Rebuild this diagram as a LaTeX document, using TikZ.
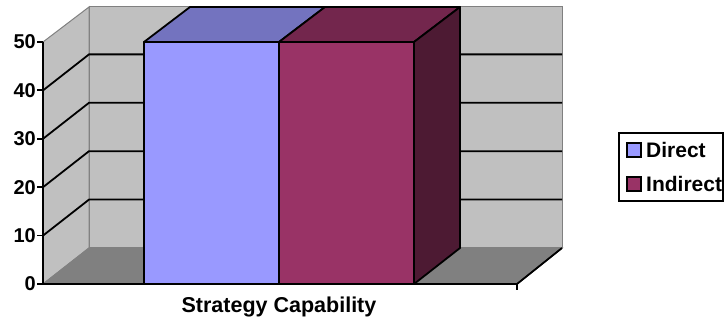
\documentclass[tikz,border=0pt]{standalone}
\usepackage{fontspec}
\setmainfont{Liberation Sans}
\definecolor{wallgray}{HTML}{C0C0C0}
\definecolor{floorgray}{HTML}{808080}
\definecolor{directfront}{HTML}{9999FF}
\definecolor{directtop}{HTML}{7373BF}
\definecolor{indirectfront}{HTML}{993366}
\definecolor{indirecttop}{HTML}{73264D}
\definecolor{indirectside}{HTML}{4D1A33}
\tikzset{
	panel/.style={draw=floorgray,line width=1pt},
	barline/.style={draw=black,line width=1.8pt,line join=round},
	ticklabel/.style={font=\bfseries\fontsize{20}{24}\selectfont,anchor=east,inner sep=0pt},
	legendtext/.style={font=\bfseries\fontsize{21}{25}\selectfont,anchor=west,inner sep=0pt}
}
\begin{document}
\begin{tikzpicture}[x=1pt,y=-1pt]
	\useasboundingbox (0,0) rectangle (724,320);
	% walls and floor
	\fill[wallgray,panel] (89,7) rectangle (562,248);
	\fill[wallgray,panel] (43,284) -- (43,42) -- (89,7) -- (89,248) -- cycle;
	\fill[floorgray,panel] (43,284) -- (89,248) -- (562,248) -- (517,284) -- cycle;
	\draw[black,line width=1.8pt] (517,284) -- (562,248);
	% grid
	\foreach \v in {10,20,30,40}
		\draw[black,line width=1.8pt] (43,284-4.84*\v) -- (89,248-4.84*\v) -- (562,248-4.84*\v);
	% bars
	\filldraw[fill=directfront,barline] (144,42) rectangle (279,284);
	\filldraw[fill=directtop,barline] (144,42) -- (190,7) -- (325,7) -- (279,42) -- cycle;
	\filldraw[fill=indirectfront,barline] (279,42) rectangle (414,284);
	\filldraw[fill=indirecttop,barline] (279,42) -- (325,7) -- (460,7) -- (414,42) -- cycle;
	\filldraw[fill=indirectside,barline] (414,42) -- (460,7) -- (460,248) -- (414,284) -- cycle;
	% axes
	\draw[black,line width=1.8pt] (43,42) -- (43,284) -- (517,284) -- (517,290);
	\foreach \v in {0,10,20,30,40,50} {
		\draw[black,line width=1.8pt] (37,284-4.84*\v) -- (43,284-4.84*\v);
		\node[ticklabel] (lab\v) at (36,284-4.84*\v) {\v};
	}
	\node[font=\bfseries\fontsize{21.5}{26}\selectfont] (xtitle) at (279,307) {Strategy Capability};
	% legend
	\draw[black,line width=1.5pt] (619,133) rectangle (723,201);
	\filldraw[fill=directfront,draw=black,line width=1.5pt] (627,143) rectangle (641,157);
	\filldraw[fill=indirectfront,draw=black,line width=1.5pt] (627,177) rectangle (641,191);
	\node[legendtext] (direct) at (646,150) {Direct};
	\node[legendtext] (indirect) at (646,184) {Indirect};
\end{tikzpicture}
\end{document}
